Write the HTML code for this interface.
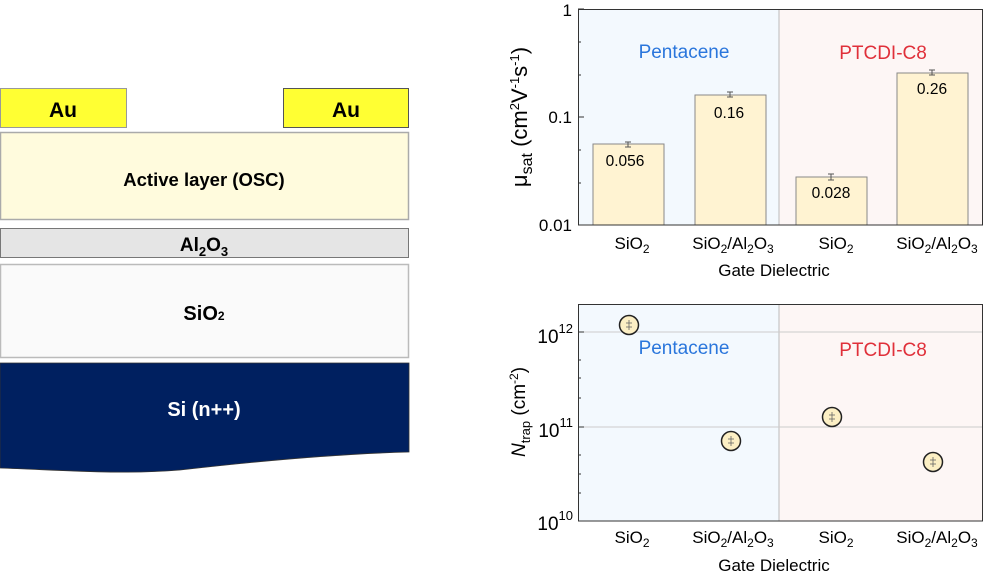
<!DOCTYPE html>
<html><head><meta charset="utf-8"><style>
html,body{margin:0;padding:0;background:#fff;}
svg{display:block;font-family:"Liberation Sans",Arial,sans-serif;}
</style></head><body>
<svg width="986" height="573" viewBox="0 0 986 573" xmlns="http://www.w3.org/2000/svg">
<!-- Left device stack -->
<rect x="0.5" y="88.5" width="126" height="39" fill="#ffff33" stroke="#999" />
<text x="63" y="117" font-size="21" font-weight="bold" text-anchor="middle">Au</text>
<rect x="283.5" y="88.5" width="125" height="39" fill="#ffff33" stroke="#555" />
<text x="346" y="117" font-size="21" font-weight="bold" text-anchor="middle">Au</text>
<rect x="0.5" y="132.5" width="408" height="87" fill="#fffbdd" stroke="#aaa" stroke-width="1.5"/>
<text x="204" y="186" font-size="18.5" font-weight="bold" text-anchor="middle">Active layer (OSC)</text>
<rect x="0.5" y="228.5" width="408" height="29" fill="#e5e5e5" stroke="#777" />
<text x="204" y="251" font-size="19" font-weight="bold" text-anchor="middle">Al<tspan font-size="13" dy="5">2</tspan><tspan dy="-5">O</tspan><tspan font-size="13" dy="5">3</tspan></text>
<rect x="0.5" y="264.5" width="408" height="93" fill="#fafafa" stroke="#bbb" stroke-width="1.5"/>
<text x="204" y="320" font-size="20" font-weight="bold" text-anchor="middle">SiO<tspan font-size="12">2</tspan></text>
<path d="M0,363 H409 V452 C330,454 250,462 180,470 C120,475 60,470 0,468 Z" fill="#002060" stroke="#333" stroke-width="0.8"/>
<text x="204" y="416" font-size="20" font-weight="bold" fill="#fff" text-anchor="middle">Si (n++)</text>

<!-- Top chart -->
<rect x="578" y="9" width="201" height="216" fill="#f3f9fe"/>
<rect x="779" y="9" width="204" height="216" fill="#fdf6f5"/>
<line x1="779" y1="9" x2="779" y2="225" stroke="#bbb"/>
<rect x="593" y="144" width="71" height="81" fill="#fff3d2" stroke="#888"/>
<rect x="695" y="95" width="71" height="130" fill="#fff3d2" stroke="#888"/>
<rect x="796" y="177" width="71" height="48" fill="#fff3d2" stroke="#888"/>
<rect x="897" y="73" width="71" height="152" fill="#fff3d2" stroke="#888"/>
<g stroke="#555" stroke-width="1">
<line x1="628" y1="142" x2="628" y2="147"/><line x1="625" y1="142" x2="631" y2="142"/><line x1="625" y1="147" x2="631" y2="147"/>
<line x1="730" y1="92" x2="730" y2="97"/><line x1="727" y1="92" x2="733" y2="92"/><line x1="727" y1="97" x2="733" y2="97"/>
<line x1="831" y1="174" x2="831" y2="180"/><line x1="828" y1="174" x2="834" y2="174"/><line x1="828" y1="180" x2="834" y2="180"/>
<line x1="932" y1="70" x2="932" y2="75"/><line x1="929" y1="70" x2="935" y2="70"/><line x1="929" y1="75" x2="935" y2="75"/>
</g>
<g font-size="15.5" text-anchor="middle">
<text x="625" y="166">0.056</text><text x="729" y="118">0.16</text>
<text x="831" y="198">0.028</text><text x="932" y="94">0.26</text>
</g>
<text x="684" y="58" font-size="19" fill="#2a76dc" text-anchor="middle">Pentacene</text>
<text x="883" y="59" font-size="19" fill="#e0303a" text-anchor="middle">PTCDI-C8</text>
<rect x="578.5" y="9.5" width="404" height="215.5" fill="none" stroke="#333"/>
<g stroke="#333">
<line x1="578" y1="9" x2="584" y2="9"/><line x1="578" y1="117" x2="584" y2="117"/><line x1="578" y1="225" x2="584" y2="225"/>
<line x1="578" y1="42" x2="581" y2="42"/><line x1="578" y1="75" x2="581" y2="75"/><line x1="578" y1="150" x2="581" y2="150"/><line x1="578" y1="183" x2="581" y2="183"/>
</g>
<g font-size="17" text-anchor="end">
<text x="572" y="16">1</text><text x="572" y="123">0.1</text><text x="572" y="231">0.01</text>
</g>
<g font-size="17" text-anchor="middle">
<text x="632" y="249">SiO<tspan font-size="12" dy="4">2</tspan></text>
<text x="733" y="249">SiO<tspan font-size="12" dy="4">2</tspan><tspan dy="-4">/Al</tspan><tspan font-size="12" dy="4">2</tspan><tspan dy="-4">O</tspan><tspan font-size="12" dy="4">3</tspan></text>
<text x="836" y="249">SiO<tspan font-size="12" dy="4">2</tspan></text>
<text x="937" y="249">SiO<tspan font-size="12" dy="4">2</tspan><tspan dy="-4">/Al</tspan><tspan font-size="12" dy="4">2</tspan><tspan dy="-4">O</tspan><tspan font-size="12" dy="4">3</tspan></text>
<text x="774" y="276">Gate Dielectric</text>
</g>
<text transform="translate(527,117) rotate(-90)" font-size="22" text-anchor="middle">μ<tspan font-size="16" dy="5">sat</tspan><tspan dy="-5"> (cm</tspan><tspan font-size="13" dy="-8">2</tspan><tspan dy="8">V</tspan><tspan font-size="13" dy="-8">-1</tspan><tspan dy="8">s</tspan><tspan font-size="13" dy="-8">-1</tspan><tspan dy="8">)</tspan></text>

<!-- Bottom chart -->
<rect x="578" y="304" width="201" height="217" fill="#f3f9fe"/>
<rect x="779" y="304" width="204" height="217" fill="#fdf6f5"/>
<line x1="779" y1="304" x2="779" y2="521" stroke="#bbb"/>
<line x1="578" y1="332" x2="983" y2="332" stroke="#ccc"/>
<line x1="578" y1="427" x2="983" y2="427" stroke="#ccc"/>
<text x="684" y="354" font-size="19" fill="#2a76dc" text-anchor="middle">Pentacene</text>
<text x="883" y="356" font-size="19" fill="#e0303a" text-anchor="middle">PTCDI-C8</text>
<g fill="#fcefc4" stroke="#222" stroke-width="1.5">
<circle cx="629" cy="325" r="9.5"/><circle cx="731" cy="441" r="9.5"/>
<circle cx="832" cy="417" r="9.5"/><circle cx="933" cy="462" r="9.5"/>
</g>
<g stroke="#666" stroke-width="0.8">
<line x1="629" y1="320" x2="629" y2="330"/><line x1="626" y1="323" x2="632" y2="323"/><line x1="626" y1="327" x2="632" y2="327"/>
<line x1="731" y1="436" x2="731" y2="446"/><line x1="728" y1="439" x2="734" y2="439"/><line x1="728" y1="443" x2="734" y2="443"/>
<line x1="832" y1="412" x2="832" y2="422"/><line x1="829" y1="415" x2="835" y2="415"/><line x1="829" y1="419" x2="835" y2="419"/>
<line x1="933" y1="457" x2="933" y2="467"/><line x1="930" y1="460" x2="936" y2="460"/><line x1="930" y1="464" x2="936" y2="464"/>
</g>
<rect x="578.5" y="304.5" width="404" height="216.5" fill="none" stroke="#333"/>
<g stroke="#333">
<line x1="578" y1="332" x2="584" y2="332"/><line x1="578" y1="427" x2="584" y2="427"/>
<line x1="578" y1="360" x2="581" y2="360"/><line x1="578" y1="378" x2="581" y2="378"/><line x1="578" y1="398" x2="581" y2="398"/>
<line x1="578" y1="455" x2="581" y2="455"/><line x1="578" y1="474" x2="581" y2="474"/><line x1="578" y1="493" x2="581" y2="493"/>
</g>
<g font-size="19" text-anchor="end">
<text x="573" y="343">10<tspan font-size="13" dy="-10">12</tspan></text>
<text x="573" y="437">10<tspan font-size="13" dy="-10">11</tspan></text>
<text x="573" y="530">10<tspan font-size="13" dy="-10">10</tspan></text>
</g>
<g font-size="17" text-anchor="middle">
<text x="632" y="543">SiO<tspan font-size="12" dy="4">2</tspan></text>
<text x="733" y="543">SiO<tspan font-size="12" dy="4">2</tspan><tspan dy="-4">/Al</tspan><tspan font-size="12" dy="4">2</tspan><tspan dy="-4">O</tspan><tspan font-size="12" dy="4">3</tspan></text>
<text x="836" y="543">SiO<tspan font-size="12" dy="4">2</tspan></text>
<text x="937" y="543">SiO<tspan font-size="12" dy="4">2</tspan><tspan dy="-4">/Al</tspan><tspan font-size="12" dy="4">2</tspan><tspan dy="-4">O</tspan><tspan font-size="12" dy="4">3</tspan></text>
<text x="774" y="571">Gate Dielectric</text>
</g>
<text transform="translate(525,412) rotate(-90)" font-size="19" text-anchor="middle"><tspan font-style="italic">N</tspan><tspan font-size="13" dy="5">trap</tspan><tspan dy="-5"> (cm</tspan><tspan font-size="12" dy="-7">-2</tspan><tspan dy="7">)</tspan></text>
</svg>
</body></html>
